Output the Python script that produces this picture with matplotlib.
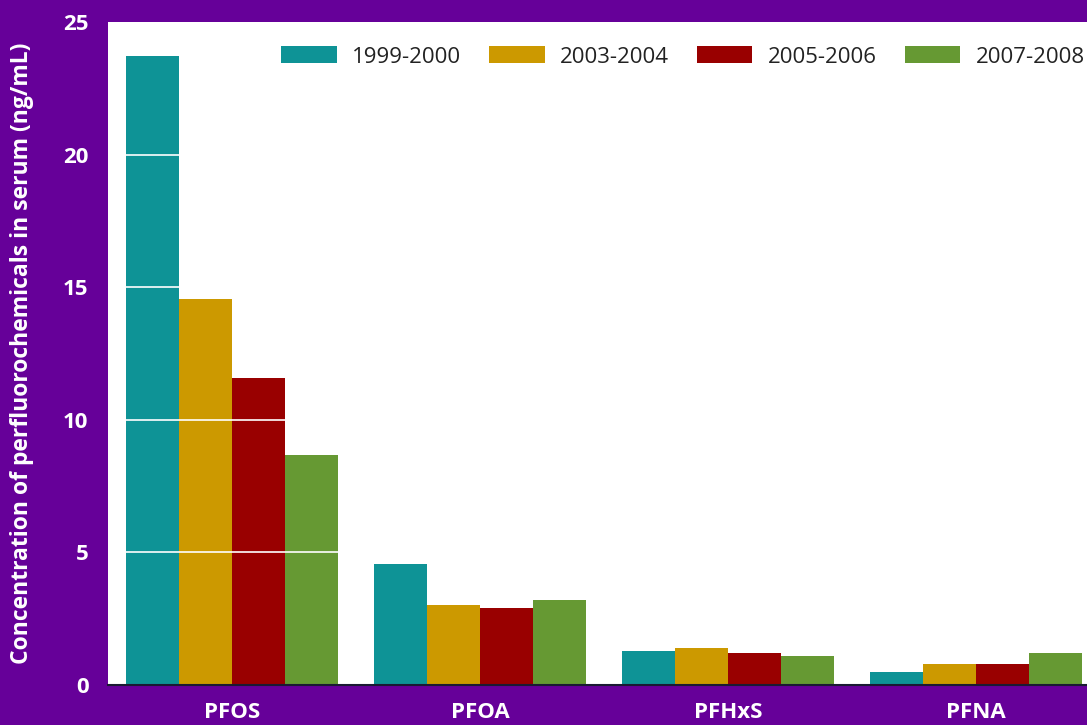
import numpy as np
import matplotlib.pyplot as plt

# Data
chemicals = ["PFOS", "PFOA", "PFHxS", "PFNA"]
periods = ["1999-2000", "2003-2004", "2005-2006", "2007-2008"]
v_1999 = [23.7, 4.56, 1.29, 0.50]
v_2003 = [14.55, 3.02, 1.38, 0.79]
v_2005 = [11.58, 2.90, 1.19, 0.79]
v_2007 = [8.67, 3.20, 1.09, 1.19]
colors = ["#0E9396", "#CC9900", "#990000", "#669933"]

purple = "#660099"

fig = plt.figure(figsize=(10.87, 7.25), dpi=100, facecolor=purple)
ax = fig.add_axes([108/1087, 40/725, 992/1087, 663/725])
ax.set_facecolor("white")

x = np.arange(len(chemicals))
w = 0.2146
series = [v_1999, v_2003, v_2005, v_2007]
for i, vals in enumerate(series):
    ax.bar(x + (i - 1.5) * w, vals, width=w, color=colors[i],
           label=periods[i], zorder=2)

# white gridlines over the bars
for yv in [5, 10, 15, 20]:
    ax.axhline(yv, color="white", lw=1.2, zorder=3)

ax.set_xlim(-0.5, 3.5)
ax.set_ylim(0, 25)
ax.set_yticks([0, 5, 10, 15, 20, 25])
ax.set_xticks(x)
ax.set_xticklabels(chemicals)
ax.tick_params(length=0, colors="white", labelsize=16)
ax.tick_params(axis="y", pad=14)
ax.tick_params(axis="x", pad=12)
for lab in ax.get_xticklabels() + ax.get_yticklabels():
    lab.set_fontweight("bold")
    lab.set_family("Open Sans")

for s in ["top", "right", "left"]:
    ax.spines[s].set_visible(False)
ax.spines["bottom"].set_color("#1a1a33")
ax.spines["bottom"].set_linewidth(1.5)
ax.spines["bottom"].set_zorder(4)

fig.text(22/1087, 0.513, "Concentration of perfluorochemicals in serum (ng/mL)",
         rotation=90, ha="center", va="center", color="white",
         fontsize=16.5, fontweight="bold", family="Open Sans")

leg = ax.legend(loc="center right", bbox_to_anchor=(1085/1087, 1 - 57/725),
                bbox_transform=fig.transFigure, ncol=4, frameon=False,
                handlelength=2.5, handleheight=0.8,
                handletextpad=0.7, columnspacing=1.25, borderpad=0,
                borderaxespad=0, prop={"family": "Open Sans", "size": 16})
for t in leg.get_texts():
    t.set_color("#222222")

fig.savefig("out.png", dpi=100, facecolor=purple)
